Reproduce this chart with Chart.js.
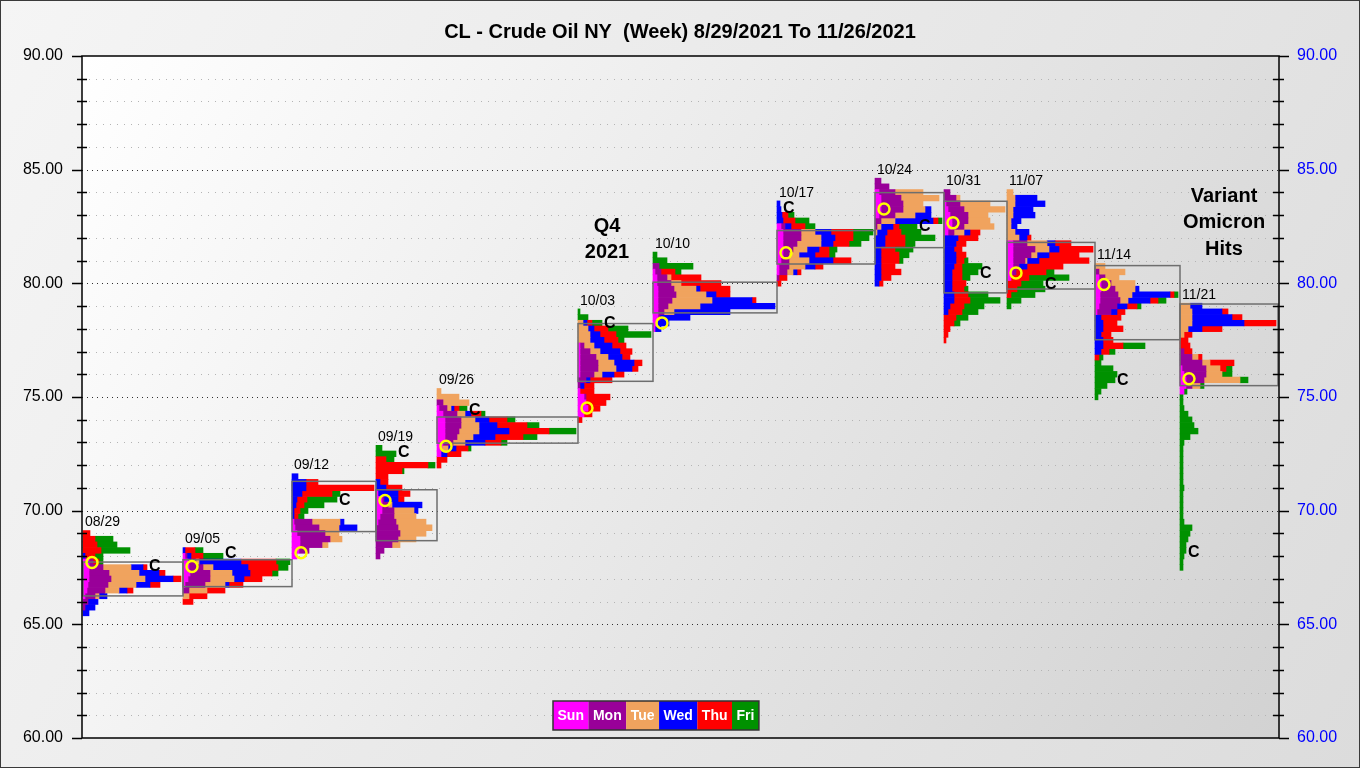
<!DOCTYPE html>
<html>
<head>
<meta charset="utf-8">
<script src="https://cdn.jsdelivr.net/npm/chart.js@4.4.1/dist/chart.umd.min.js"></script>
<style>
  html, body { margin: 0; padding: 0; background: #eee; }
  #wrap { width: 1360px; height: 768px; }
</style>
</head>
<body>
<div id="wrap"><canvas id="chart" width="1360" height="768"></canvas></div>
<script>
const FONT = "Arial, 'Liberation Sans', sans-serif";

// weeks
const weekLabels = ['08/29', '09/05', '09/12', '09/19', '09/26', '10/03', '10/10', '10/17', '10/24', '10/31', '11/07', '11/14', '11/21'];
const dayNames = ['Sun', 'Mon', 'Tue', 'Wed', 'Thu', 'Fri'];
const dayColors = ['#ff00ff', '#990099', '#f0a35e', '#0000ff', '#ff0000', '#009100'];

// profile rows go from the top price down in steps of priceStep
const priceStep = 0.25;
const weekTops = [69.0, 68.25, 71.5, 72.75, 75.25, 78.75, 81.25, 83.5, 84.5, 84.0, 84.0, 80.75, 79.0];
const openPrices = [67.72, 67.54, 68.15, 70.45, 72.83, 74.52, 78.26, 81.34, 83.27, 82.66, 80.46, 79.95, 75.8];
const closePrices = [67.53, 68.1, 70.43, 72.56, 74.42, 78.23, null, 83.3, 82.5, 80.43, 79.95, 75.73, 68.16];
const valueHigh = [67.74, 67.84, 71.29, 70.92, 74.12, 78.23, 80.05, 82.32, 83.99, 83.61, 81.8, 80.78, 79.09];
const valueLow = [66.25, 66.66, 69.08, 68.68, 72.97, 75.69, 78.7, 80.85, 81.57, 79.58, 79.75, 77.52, 75.5];

// each row: Sun, Mon, Tue, Wed, Thu, Fri
const w0829 = [
  [0,0,0,0,7,0],[0,0,0,0,12,18],[0,0,0,0,14,20],[0,0,0,0,18,29],[0,0,0,2,10,8],
  [6,4,0,0,6,4],[6,14,28,12,4,0],[6,20,30,20,6,0],[6,22,34,28,8,0],[5,20,28,14,10,0],
  [4,18,14,8,6,0],[2,10,4,8,0,0],[0,5,0,10,0,0],[0,2,0,10,0,0],[0,0,0,6,0,0]
];
const w0905 = [
  [0,0,0,2,10,8],[2,2,0,4,12,20],[5,8,3,42,35,14],[6,14,10,35,30,10],[7,20,22,18,22,6],
  [5,22,24,10,18,0],[2,20,20,4,14,0],[0,6,18,0,18,0],[0,0,6,0,18,0],[0,0,0,0,10,0]
];
const w0912 = [
  [0,0,0,6,0,0],[0,0,0,14,12,0],[0,0,0,14,68,0],[0,0,0,10,30,8],[0,0,0,5,10,30],
  [0,0,0,4,8,20],[0,0,0,2,6,8],[0,0,0,2,4,6],[2,18,28,4,0,0],[3,24,20,18,0,0],
  [5,28,14,0,0,0],[8,30,12,0,0,0],[8,22,6,0,0,0],[7,10,0,0,0,0],[5,0,0,0,0,0]
];
const w0919 = [
  [0,0,0,0,0,6],[0,0,0,0,0,20],[0,0,0,0,10,8],[0,0,0,0,52,7],[0,0,0,0,26,2],
  [0,0,0,0,12,0],[0,0,0,4,8,0],[0,0,0,10,16,0],[2,0,0,20,12,0],[6,2,0,14,6,0],
  [6,6,4,30,0,0],[6,12,20,4,0,0],[4,14,22,0,0,0],[2,18,30,0,0,0],[0,22,34,0,0,0],
  [0,24,26,0,0,0],[0,22,18,0,0,0],[0,16,8,0,0,0],[0,8,0,0,0,0],[0,4,0,0,0,0]
];
const w0926 = [
  [0,0,4,0,0,0],[0,0,22,0,0,0],[0,6,26,0,0,0],[2,8,4,3,5,8],[6,14,8,6,10,4],
  [8,16,14,14,18,8],[8,16,18,18,30,12],[8,14,20,30,40,27],[8,12,16,22,28,14],[6,10,12,20,16,6],
  [5,0,6,8,12,3],[4,0,0,6,14,0],[0,0,0,0,10,0],[0,0,0,0,4,0]
];
const w1003 = [
  [0,0,0,0,0,2],[0,0,0,0,0,10],[0,0,5,4,5,10],[0,0,10,6,14,20],[0,0,12,10,16,35],
  [0,0,12,14,14,6],[2,4,10,18,14,0],[2,10,10,20,12,0],[2,16,12,14,8,0],[2,18,16,20,8,0],
  [2,18,18,16,6,0],[2,14,8,12,10,0],[0,8,0,4,22,0],[0,2,0,4,10,0],[2,0,0,0,14,0],
  [6,2,0,0,24,0],[8,0,0,0,20,0],[10,0,0,0,12,0],[6,0,0,0,8,0],[0,0,0,0,4,0]
];
const w1010 = [
  [0,0,0,0,0,4],[0,0,0,0,0,14],[0,6,0,0,0,34],[2,6,0,0,14,6],[4,10,4,0,30,0],
  [4,14,10,0,40,0],[5,16,22,4,30,0],[5,18,30,10,14,0],[5,14,40,40,4,0],[5,10,32,75,0,0],
  [5,6,10,56,0,0],[5,2,0,30,0,0],[4,0,0,12,0,0],[2,0,0,6,0,0]
];
const w1017 = [
  [0,0,0,3,0,0],[0,0,0,4,0,0],[0,0,0,5,6,6],[0,0,0,6,12,14],[4,4,0,6,14,10],
  [6,18,14,16,22,20],[6,18,20,14,18,16],[6,14,24,12,16,12],[6,10,14,12,10,8],[6,6,10,16,14,6],
  [4,8,20,24,18,0],[2,10,16,10,8,0],[2,8,6,4,4,0],[0,2,0,0,8,0],[0,0,0,0,4,0]
];
const w1024 = [
  [0,6,0,0,0,0],[0,14,0,0,0,0],[4,16,28,0,0,0],[6,20,38,0,0,0],[6,22,20,0,0,0],
  [6,22,22,6,0,0],[4,16,20,16,0,0],[0,6,14,38,5,4],[0,2,4,12,6,18],[0,0,2,10,14,20],
  [0,0,0,10,20,30],[0,0,0,10,20,10],[0,0,0,6,14,18],[0,0,0,6,18,10],[0,0,0,6,18,4],
  [0,0,0,6,14,0],[0,0,0,6,20,0],[0,0,0,6,10,0],[0,0,0,4,4,0]
];
const w1031 = [
  [0,6,0,0,0,0],[0,12,4,0,0,0],[2,14,30,0,0,0],[4,16,41,0,0,0],[6,18,20,0,0,0],
  [8,16,22,0,0,0],[8,12,30,0,0,0],[4,6,10,6,10,0],[0,0,0,14,20,0],[0,0,0,12,10,0],
  [0,0,0,10,8,0],[0,0,0,12,10,0],[0,0,0,12,8,4],[0,0,0,10,8,20],[0,0,0,8,10,16],
  [0,0,0,8,10,8],[0,0,0,8,14,0],[0,0,0,8,12,4],[0,0,0,10,14,20],[0,0,0,10,16,30],
  [0,0,0,6,14,20],[0,0,0,4,14,16],[0,0,0,0,12,12],[0,0,0,0,10,6],[0,0,0,0,6,0],
  [0,0,0,0,4,0],[0,0,0,0,2,0]
];
const w1107 = [
  [0,0,6,0,0,0],[0,0,8,22,0,0],[0,0,8,30,0,0],[0,0,6,20,0,0],[0,0,6,22,0,0],
  [0,0,4,10,0,0],[0,0,4,6,0,0],[0,0,8,14,0,0],[0,0,12,8,4,0],[6,14,20,8,16,0],
  [6,22,14,10,34,0],[6,18,6,12,30,0],[6,12,2,12,50,0],[6,6,0,8,36,0],[5,4,0,0,30,8],
  [4,0,0,0,18,40],[0,0,0,0,14,22],[0,0,0,0,10,28],[0,0,0,0,4,24],[0,0,0,0,0,14],
  [0,0,0,0,0,4]
];
const w1114 = [
  [0,0,10,0,0,0],[0,4,26,0,0,0],[4,6,14,0,0,0],[6,10,24,0,0,0],[6,14,20,4,0,0],
  [5,18,14,38,4,4],[5,20,8,22,8,8],[4,18,0,10,10,4],[2,14,0,6,8,0],[0,0,0,6,20,0],
  [0,0,0,8,14,0],[0,0,0,8,20,0],[0,0,0,6,10,0],[0,0,0,8,10,0],[0,0,0,8,20,22],
  [0,0,0,6,8,6],[0,0,0,0,4,4],[0,0,0,0,0,6],[0,0,0,0,0,18],[0,0,0,0,0,22],
  [0,0,0,0,0,20],[0,0,0,0,0,12],[0,0,0,0,0,6],[0,0,0,0,0,3]
];
const w1121 = [
  [0,0,10,12,0,0],[0,0,12,30,6,0],[0,0,12,40,10,0],[0,0,12,52,32,0],[0,0,8,14,20,0],
  [0,0,4,0,8,0],[0,0,0,0,8,0],[0,0,0,0,10,0],[0,4,0,0,8,0],[0,12,6,0,4,0],
  [0,22,8,0,24,0],[2,24,14,0,6,6],[4,22,16,0,0,10],[6,18,36,0,0,8],[6,6,8,0,0,4],
  [4,0,0,0,0,3],[0,0,0,0,0,3],[0,0,0,0,0,3],[0,0,0,0,0,4],[0,0,0,0,0,8],
  [0,0,0,0,0,12],[0,0,0,0,0,14],[0,0,0,0,0,18],[0,0,0,0,0,10],[0,0,0,0,0,4],
  [0,0,0,0,0,3],[0,0,0,0,0,3],[0,0,0,0,0,3],[0,0,0,0,0,3],[0,0,0,0,0,3],
  [0,0,0,0,0,3],[0,0,0,0,0,3],[0,0,0,0,0,4],[0,0,0,0,0,3],[0,0,0,0,0,3],
  [0,0,0,0,0,3],[0,0,0,0,0,3],[0,0,0,0,0,3],[0,0,0,0,0,4],[0,0,0,0,0,12],
  [0,0,0,0,0,10],[0,0,0,0,0,8],[0,0,0,0,0,6],[0,0,0,0,0,6],[0,0,0,0,0,4],
  [0,0,0,0,0,3],[0,0,0,0,0,3]
];
const profiles = [w0829, w0905, w0912, w0919, w0926, w1003, w1010, w1017, w1024, w1031, w1107, w1114, w1121];

const notes = [
  { text: 'Q4', x: 525, y: 82.5 },
  { text: '2021', x: 525, y: 81.35 },
  { text: 'Variant', x: 1142, y: 83.82 },
  { text: 'Omicron', x: 1142, y: 82.67 },
  { text: 'Hits', x: 1142, y: 81.48 }
];

// column start of each week = running sum of widest row + gap
const colGap = 2;
const rowTotal = r => r.reduce((a, b) => a + b, 0);
const colStart = [];
const colWidth = [];
let acc = 1;
profiles.forEach(rows => {
  colStart.push(acc);
  const w = Math.max(...rows.map(rowTotal)) + colGap;
  colWidth.push(w);
  acc += w;
});

const dayData = dayNames.map(() => []);
profiles.forEach((rows, w) => {
  rows.forEach((row, r) => {
    const price = weekTops[w] - r * priceStep;
    let x = colStart[w];
    row.forEach((v, d) => {
      if (v > 0) dayData[d].push({ y: price, x: [x, x + v] });
      x += v;
    });
  });
});

const datasets = dayNames.map((name, d) => ({
  type: 'bar',
  label: name,
  data: dayData[d],
  backgroundColor: dayColors[d],
  borderWidth: 0,
  grouped: false,
  barPercentage: 1,
  categoryPercentage: 1,
  xAxisID: 'x',
  yAxisID: 'y'
}));

datasets.push({
  type: 'scatter',
  label: 'Open',
  data: openPrices.map((p, w) => ({ x: colStart[w] + 9, y: p })),
  pointRadius: 5.5,
  pointBorderWidth: 2.5,
  pointBorderColor: '#ffff00',
  pointBackgroundColor: 'rgba(0,0,0,0)',
  order: -1,
  xAxisID: 'x',
  yAxisID: 'y'
});

const decor = {
  id: 'decor',
  beforeDraw(chart) {
    const { ctx, chartArea: a } = chart;
    ctx.save();
    let g = ctx.createLinearGradient(0, 0, 1360, 768);
    g.addColorStop(0, '#f5f5f5');
    g.addColorStop(1, '#dcdcdc');
    ctx.fillStyle = g;
    ctx.fillRect(0, 0, 1360, 768);
    ctx.strokeStyle = '#3a3a3a';
    ctx.lineWidth = 1;
    ctx.strokeRect(0.5, 0.5, 1359, 767);
    g = ctx.createLinearGradient(a.left, a.top, a.right, a.bottom);
    g.addColorStop(0, '#ffffff');
    g.addColorStop(1, '#d2d2d2');
    ctx.fillStyle = g;
    ctx.fillRect(a.left, a.top, a.width, a.height);
    ctx.restore();
  },
  beforeDatasetsDraw(chart) {
    const { ctx, chartArea: a, scales: { y } } = chart;
    ctx.save();
    ctx.lineWidth = 1;
    for (let v = 61; v < 90; v++) {
      const py = Math.round(y.getPixelForValue(v)) + 0.5;
      const major = v % 5 === 0;
      ctx.strokeStyle = major ? '#303030' : '#b4b4b4';
      ctx.setLineDash(major ? [1, 4] : [1, 6]);
      ctx.beginPath();
      ctx.moveTo(a.left, py);
      ctx.lineTo(a.right, py);
      ctx.stroke();
    }
    ctx.restore();
  },
  beforeDatasetDraw(chart, args) {
    if (args.meta.type !== 'scatter') return;
    const { ctx, scales: { x, y } } = chart;
    ctx.save();
    ctx.strokeStyle = '#6e6e6e';
    ctx.lineWidth = 1.5;
    colStart.forEach((s, w) => {
      const x0 = x.getPixelForValue(s);
      const x1 = x.getPixelForValue(s + colWidth[w]);
      const y0 = y.getPixelForValue(valueHigh[w]);
      const y1 = y.getPixelForValue(valueLow[w]);
      ctx.strokeRect(x0, y0, x1 - x0, y1 - y0);
    });
    ctx.restore();
  },
  afterDatasetsDraw(chart) {
    const { ctx, chartArea: a, scales: { x, y } } = chart;
    ctx.save();
    // plot frame and tick marks
    ctx.strokeStyle = '#000';
    ctx.lineWidth = 1.5;
    ctx.strokeRect(a.left, a.top, a.width, a.height);
    for (let v = 60; v <= 90; v++) {
      const py = Math.round(y.getPixelForValue(v)) + 0.5;
      const major = v % 5 === 0;
      ctx.beginPath();
      if (major) {
        ctx.moveTo(a.left - 10, py); ctx.lineTo(a.left, py);
        ctx.moveTo(a.right, py); ctx.lineTo(a.right + 10, py);
      } else {
        ctx.moveTo(a.left - 5, py); ctx.lineTo(a.left + 5, py);
        ctx.moveTo(a.right - 6, py); ctx.lineTo(a.right + 5, py);
      }
      ctx.stroke();
    }
    // week dates
    ctx.fillStyle = '#000';
    ctx.font = '14px ' + FONT;
    ctx.textBaseline = 'middle';
    ctx.textAlign = 'left';
    weekLabels.forEach((lbl, w) => {
      ctx.fillText(lbl, x.getPixelForValue(colStart[w] + 2), y.getPixelForValue(weekTops[w]) - 11);
    });
    // close markers
    ctx.font = 'bold 16px ' + FONT;
    closePrices.forEach((c, w) => {
      if (c === null) return;
      const r = Math.round((weekTops[w] - c) / priceStep);
      const row = profiles[w][r] || [0];
      ctx.fillText('C', x.getPixelForValue(colStart[w] + rowTotal(row) + 2), y.getPixelForValue(c));
    });
    // notes
    ctx.font = 'bold 20px ' + FONT;
    ctx.textAlign = 'center';
    notes.forEach(n => ctx.fillText(n.text, x.getPixelForValue(n.x), y.getPixelForValue(n.y)));
    // day legend
    ctx.font = 'bold 14px ' + FONT;
    let lx = 553;
    const ly = 701, lh = 29;
    dayNames.forEach((name, d) => {
      const w = ctx.measureText(name).width + 9;
      ctx.fillStyle = dayColors[d];
      ctx.fillRect(lx, ly, w, lh);
      ctx.fillStyle = '#fff';
      ctx.fillText(name, lx + w / 2, ly + lh / 2 + 1);
      lx += w;
    });
    ctx.strokeStyle = '#333';
    ctx.lineWidth = 1.5;
    ctx.strokeRect(553, ly, lx - 553, lh);
    ctx.restore();
  }
};

new Chart(document.getElementById('chart'), {
  type: 'bar',
  data: { datasets },
  options: {
    indexAxis: 'y',
    responsive: false,
    devicePixelRatio: 1,
    animation: false,
    events: [],
    layout: { padding: { top: 0, bottom: 30, left: 0, right: 0 } },
    plugins: {
      legend: { display: false },
      tooltip: { enabled: false },
      title: {
        display: true,
        text: 'CL - Crude Oil NY  (Week) 8/29/2021 To 11/26/2021',
        color: '#000',
        font: { family: FONT, size: 20, weight: 'bold' },
        padding: { top: 20, bottom: 12 }
      }
    },
    scales: {
      x: { type: 'linear', min: 0, max: 1197, offset: false, display: false },
      y: {
        type: 'linear', position: 'left', min: 60, max: 90, offset: false,
        ticks: {
          stepSize: 1, autoSkip: false, padding: 19, color: '#000',
          font: { family: FONT, size: 16 },
          callback: v => (v % 5 === 0 ? v.toFixed(2) : '')
        },
        grid: { display: false, drawTicks: false, offset: false },
        border: { display: false },
        afterFit: s => { s.width = 82; }
      },
      y2: {
        type: 'linear', position: 'right', min: 60, max: 90, offset: false,
        ticks: {
          stepSize: 1, autoSkip: false, padding: 18, color: '#0000ff',
          font: { family: FONT, size: 16 },
          callback: v => (v % 5 === 0 ? v.toFixed(2) : '')
        },
        grid: { display: false, drawTicks: false, offset: false },
        border: { display: false },
        afterFit: s => { s.width = 81; }
      }
    }
  },
  plugins: [decor]
});
</script>
</body>
</html>
